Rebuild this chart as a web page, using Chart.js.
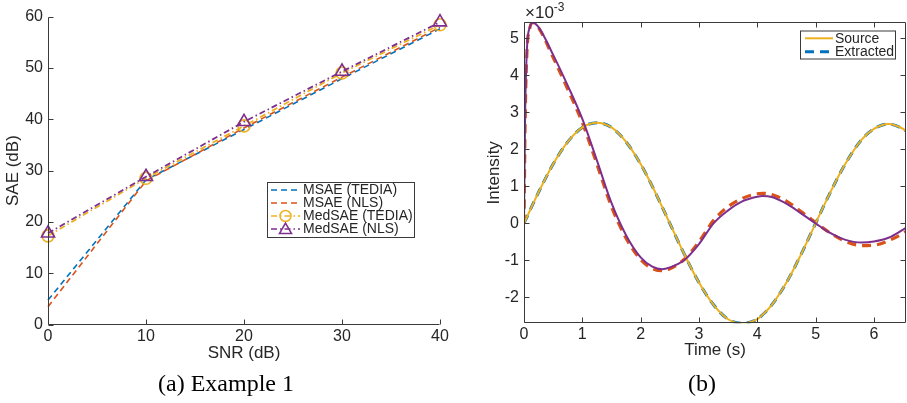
<!DOCTYPE html>
<html><head><meta charset="utf-8">
<script src="https://cdn.jsdelivr.net/npm/chart.js@4.4.0/dist/chart.umd.min.js"></script>
<style>
html,body{margin:0;padding:0;background:#fff;}
#wrap{position:relative;width:907px;height:403px;overflow:hidden;background:#fff;}
.c{position:absolute;top:0;}
.cap{position:absolute;font-family:"Liberation Serif","Times New Roman",serif;font-size:24px;line-height:24px;color:#000;white-space:nowrap;transform:translateX(-50%);}
.exp{position:absolute;left:525px;top:4px;font-family:"Liberation Sans",Arial,sans-serif;font-size:17px;line-height:17px;color:#262626;white-space:nowrap;}
.exp span{position:relative;top:-7px;font-size:12px;}
</style></head><body>
<div id="wrap">
  <div class="c" style="left:0;width:460px;height:403px"><canvas id="c1" width="460" height="403"></canvas></div>
  <div class="c" style="left:460px;width:447px;height:403px"><canvas id="c2" width="447" height="403"></canvas></div>
  <div class="cap" style="left:226px;top:371px">(a) Example 1</div>
  <div class="cap" style="left:702px;top:371px">(b)</div>
  <div class="exp">×10<span>-3</span></div>
</div>
<script>
// ---------- data: panel (a) ----------
const snr = [0, 10, 20, 30, 40];
const msaeTedia = [4.8, 28.2, 38.0, 47.9, 57.6];
const msaeNls = [3.5, 28.0, 38.3, 48.2, 57.9];
const medsaeTedia = [17.3, 28.5, 38.7, 49.0, 58.4];
const medsaeNls = [17.8, 28.8, 39.5, 49.3, 58.9];
const snrTicks = [0, 10, 20, 30, 40];
const saeTicks = [0, 10, 20, 30, 40, 50, 60];

// ---------- data: panel (b) (intensity in units of 1e-3) ----------
const timeS = [0,0.02,0.05,0.1,0.15,0.25,0.5,0.75,1,1.25,1.5,1.75,2,2.2,2.37,2.5,2.75,3,3.25,3.5,3.75,4,4.09,4.25,4.5,4.75,5,5.25,5.5,5.79,6,6.25,6.5,6.55];
const source1 = [0,0.07,0.17,0.34,0.51,0.84,1.60,2.20,2.59,2.72,2.59,2.20,1.60,1.00,0.44,0,-0.84,-1.60,-2.20,-2.59,-2.70,-2.59,-2.47,-2.20,-1.60,-0.84,0,0.83,1.58,2.26,2.55,2.68,2.55,2.49];
const extracted1 = [0,0.07,0.17,0.34,0.51,0.84,1.60,2.20,2.59,2.72,2.59,2.20,1.60,1.00,0.44,0,-0.84,-1.60,-2.20,-2.59,-2.70,-2.59,-2.47,-2.20,-1.60,-0.84,0,0.83,1.58,2.26,2.55,2.68,2.55,2.49];
const source2 = [0,3.0,4.7,5.3,5.42,5.3,4.55,3.72,2.82,1.7,0.55,-0.32,-0.92,-1.17,-1.24,-1.19,-0.99,-0.56,0.0,0.35,0.6,0.72,0.74,0.71,0.53,0.27,0.0,-0.26,-0.44,-0.52,-0.49,-0.39,-0.17,-0.12];
const extracted2 = [0,2.8,4.6,5.28,5.42,5.28,4.48,3.62,2.72,1.6,0.45,-0.4,-0.98,-1.22,-1.28,-1.23,-0.97,-0.5,0.08,0.45,0.68,0.8,0.81,0.78,0.6,0.32,0.02,-0.26,-0.48,-0.6,-0.59,-0.47,-0.27,-0.22];
const timeTicks = [0, 1, 2, 3, 4, 5, 6];
const intensityTicks = [-2, -1, 0, 1, 2, 3, 4, 5];

// ---------- style ----------
const BLUE = '#0072BD', ORANGE = '#D95319', YELLOW = '#EDB120', PURPLE = '#7E2F8E';
const AX = '#3a3a3a', TXT = '#262626';
const FAM = "'Liberation Sans', Arial, Helvetica, sans-serif";
Chart.defaults.font.family = FAM;
Chart.defaults.color = TXT;

function pts(xs, ys){ return xs.map((x,i)=>({x:x, y:ys[i]})); }

function drawMarker(ctx, type, x, y, r, color, lw){
  ctx.save(); ctx.setLineDash([]); ctx.strokeStyle = color; ctx.lineWidth = lw;
  ctx.beginPath();
  if (type === 'circle') { ctx.arc(x, y, r, 0, Math.PI*2); }
  else if (type === 'triangle') {
    const a = -Math.PI/2;
    for (let k=0;k<3;k++){ const t = a + k*2*Math.PI/3; const px = x + Math.cos(t)*r, py = y + Math.sin(t)*r + r*0.15; if(k===0) ctx.moveTo(px,py); else ctx.lineTo(px,py); }
    ctx.closePath();
  }
  ctx.stroke(); ctx.restore();
}

function framePlugin(box, legend){
  return {
    id: 'frame',
    afterDraw(chart){
      const ctx = chart.ctx, a = chart.chartArea, xs = chart.scales.x, ys = chart.scales.y;
      const L = Math.round(a.left)+0.5, R = Math.round(a.right)-0.5, T = Math.round(a.top)+0.5, B = Math.round(a.bottom)-0.5;
      const TL = 5;
      ctx.save();
      ctx.strokeStyle = AX; ctx.lineWidth = 1; ctx.setLineDash([]);
      ctx.beginPath();
      ctx.moveTo(L, T); ctx.lineTo(L, B); ctx.lineTo(R, B);
      if (box) { ctx.lineTo(R, T); ctx.lineTo(L, T); }
      xs.ticks.forEach(t => {
        const px = Math.round(xs.getPixelForValue(t.value)) + 0.5;
        ctx.moveTo(px, B); ctx.lineTo(px, B - TL);
        if (box) { ctx.moveTo(px, T); ctx.lineTo(px, T + TL); }
      });
      ys.ticks.forEach(t => {
        const py = Math.round(ys.getPixelForValue(t.value)) + 0.5;
        ctx.moveTo(L, py); ctx.lineTo(L + TL, py);
        if (box) { ctx.moveTo(R, py); ctx.lineTo(R - TL, py); }
      });
      ctx.stroke();
      // legend
      const lg = legend;
      ctx.fillStyle = '#fff'; ctx.fillRect(lg.x, lg.y, lg.w, lg.h);
      ctx.strokeStyle = AX; ctx.strokeRect(lg.x + 0.5, lg.y + 0.5, lg.w - 1, lg.h - 1);
      ctx.font = '14px ' + FAM; ctx.textBaseline = 'middle'; ctx.textAlign = 'left';
      lg.rows.forEach((r, i) => {
        const cy = lg.y + lg.rowTop + i * lg.rowH;
        ctx.strokeStyle = r.color; ctx.lineWidth = r.width; ctx.setLineDash(r.dash || []);
        ctx.beginPath(); ctx.moveTo(lg.x + lg.lx0, cy); ctx.lineTo(lg.x + lg.lx1, cy); ctx.stroke();
        ctx.setLineDash([]);
        if (r.marker) drawMarker(ctx, r.marker, lg.x + (lg.lx0 + lg.lx1)/2, cy, r.mr, r.color, 1.5);
        ctx.fillStyle = TXT; ctx.fillText(r.label, lg.x + lg.tx, cy + 0.5);
      });
      ctx.restore();
    }
  };
}

function scaleCommon(min, max, tickVals, title, titlePad, labelPad, isX, size){
  return {
    type: 'linear', min: min, max: max,
    afterBuildTicks: s => { s.ticks = tickVals.map(v => ({value: v})); },
    afterFit: s => { if (isX) s.height = size; else s.width = size; },
    grid: { display: false, drawTicks: false },
    border: { display: false },
    ticks: { font: { size: 16, family: FAM }, color: TXT, padding: labelPad, maxRotation: 0, autoSkip: false },
    title: { display: true, text: title, color: TXT, font: { size: 17, family: FAM, lineHeight: 1.2 }, padding: titlePad }
  };
}

// ---------- panel (a) ----------
new Chart(document.getElementById('c1'), {
  type: 'line',
  data: {
    datasets: [
      { label: 'MedSAE (NLS)', data: pts(snr, medsaeNls), borderColor: PURPLE, borderWidth: 1.8, borderDash: [6,3,1.5,3],
        pointStyle: 'triangle', pointRadius: 7.5, pointBorderWidth: 1.6, pointBorderColor: PURPLE, pointBackgroundColor: 'rgba(0,0,0,0)', fill: false, tension: 0, clip: false },
      { label: 'MedSAE (TEDIA)', data: pts(snr, medsaeTedia), borderColor: YELLOW, borderWidth: 1.8, borderDash: [6,3,1.5,3],
        pointStyle: 'circle', pointRadius: 6, pointBorderWidth: 1.6, pointBorderColor: YELLOW, pointBackgroundColor: 'rgba(0,0,0,0)', fill: false, tension: 0, clip: false },
      { label: 'MSAE (NLS)', data: pts(snr, msaeNls), borderColor: ORANGE, borderWidth: 1.6, borderDash: [6,4], pointRadius: 0, fill: false, tension: 0, clip: false },
      { label: 'MSAE (TEDIA)', data: pts(snr, msaeTedia), borderColor: BLUE, borderWidth: 1.6, borderDash: [6,4], pointRadius: 0, fill: false, tension: 0, clip: false }
    ]
  },
  options: {
    responsive: false, animation: false, events: [],
    layout: { padding: { left: 0, right: 20, top: 16.5, bottom: 38.3 } },
    plugins: { legend: { display: false }, tooltip: { enabled: false } },
    scales: {
      x: scaleCommon(0, 40, snrTicks, 'SNR (dB)', { top: 0, bottom: 1.5 }, 2.4, true, 40),
      y: scaleCommon(0, 60, saeTicks, 'SAE (dB)', { top: 3, bottom: 0 }, 5, false, 48)
    }
  },
  plugins: [framePlugin(false, {
    x: 267, y: 182, w: 148, h: 56, rowTop: 8, rowH: 13, lx0: 4, lx1: 33, tx: 36,
    rows: [
      { label: 'MSAE (TEDIA)', color: BLUE, width: 1.6, dash: [6,4] },
      { label: 'MSAE (NLS)', color: ORANGE, width: 1.6, dash: [6,4] },
      { label: 'MedSAE (TEDIA)', color: YELLOW, width: 1.6, dash: [6,3,1.5,3], marker: 'circle', mr: 5.5 },
      { label: 'MedSAE (NLS)', color: PURPLE, width: 1.6, dash: [6,3,1.5,3], marker: 'triangle', mr: 7 }
    ]
  })]
});

// ---------- panel (b) ----------
new Chart(document.getElementById('c2'), {
  type: 'line',
  data: {
    datasets: [
      { label: 'Source 2', data: pts(timeS, source2), borderColor: PURPLE, borderWidth: 2, pointRadius: 0, fill: false, cubicInterpolationMode: 'monotone' },
      { label: 'Source', data: pts(timeS, source1), borderColor: YELLOW, borderWidth: 2, pointRadius: 0, fill: false, cubicInterpolationMode: 'monotone' },
      { label: 'Extracted 2', data: pts(timeS, extracted2), borderColor: ORANGE, borderWidth: 3.2, borderDash: [9,6], pointRadius: 0, fill: false, cubicInterpolationMode: 'monotone' },
      { label: 'Extracted', data: pts(timeS, extracted1), borderColor: BLUE, borderWidth: 3, borderDash: [9,6], pointRadius: 0, fill: false, cubicInterpolationMode: 'monotone' }
    ]
  },
  options: {
    responsive: false, animation: false, events: [],
    layout: { padding: { left: 0, right: 1, top: 22.3, bottom: 39.7 } },
    plugins: { legend: { display: false }, tooltip: { enabled: false } },
    scales: {
      x: scaleCommon(0, 6.55, timeTicks, 'Time (s)', { top: 0, bottom: 3 }, 2, true, 40),
      y: scaleCommon(-2.7, 5.43, intensityTicks, 'Intensity', { top: 24, bottom: 0 }, 5, false, 64)
    }
  },
  plugins: [framePlugin(true, {
    x: 340, y: 30.5, w: 96, h: 29, rowTop: 7.8, rowH: 13.4, lx0: 5, lx1: 33, tx: 35,
    rows: [
      { label: 'Source', color: YELLOW, width: 2, dash: [] },
      { label: 'Extracted', color: BLUE, width: 3, dash: [9,6] }
    ]
  })]
});
</script>
</body></html>
